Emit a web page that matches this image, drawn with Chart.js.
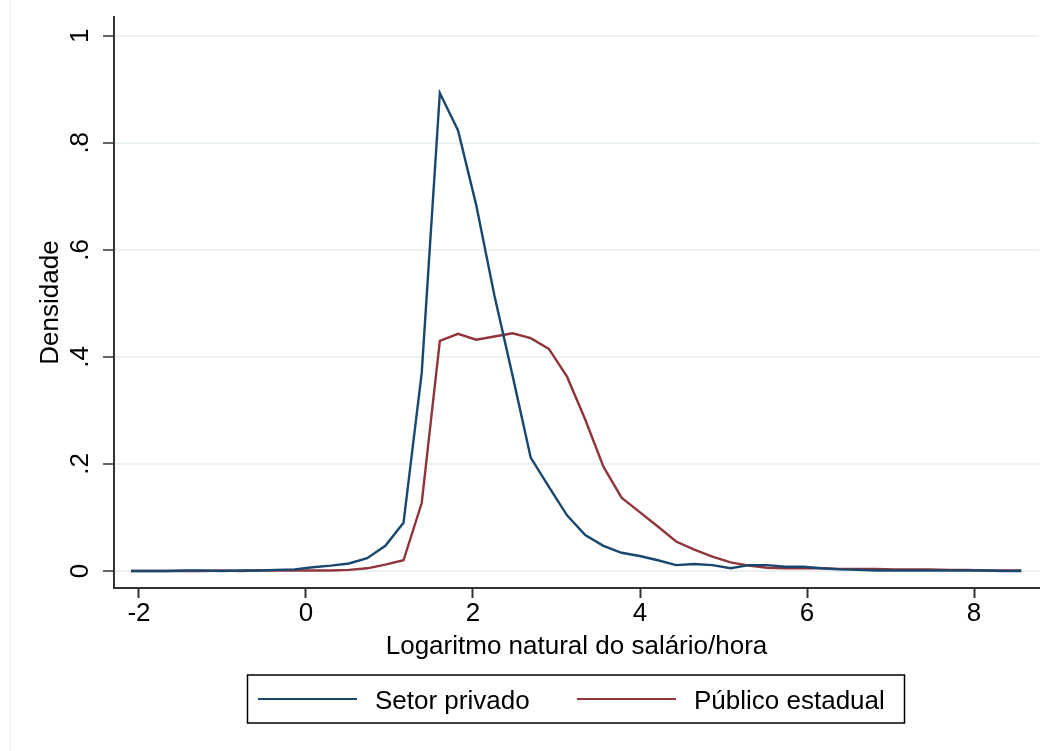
<!DOCTYPE html>
<html lang="pt">
<head>
    <meta charset="UTF-8">
    <title>Densidade - salário/hora</title>
    <script src="https://cdn.jsdelivr.net/npm/chart.js"></script>
    <style>
        body { margin: 0; background: #fff; }
        canvas { display: block; }
    </style>
</head>
<body>
    <canvas id="densChart" width="1055" height="751"></canvas>

    <script>
    // pontos de avaliação do kdensity (log do salário/hora)
    const xGrid = [
        -2.096, -1.878, -1.661, -1.443, -1.226, -1.008, -0.790, -0.573, -0.355, -0.138,
         0.080,  0.298,  0.515,  0.733,  0.950,  1.168,  1.386,  1.603,  1.821,  2.038,
         2.256,  2.474,  2.691,  2.909,  3.126,  3.344,  3.562,  3.779,  3.997,  4.214,
         4.432,  4.650,  4.867,  5.085,  5.302,  5.520,  5.738,  5.955,  6.173,  6.390,
         6.608,  6.826,  7.043,  7.261,  7.478,  7.696,  7.914,  8.131,  8.349,  8.566
    ];

    const setorPrivado = [
        0.000, 0.000, 0.000, 0.001, 0.001, 0.000, 0.001, 0.001, 0.002, 0.003,
        0.007, 0.010, 0.014, 0.024, 0.047, 0.090, 0.370, 0.893, 0.823, 0.684,
        0.515, 0.365, 0.212, 0.157, 0.104, 0.067, 0.047, 0.034, 0.028, 0.020,
        0.011, 0.013, 0.011, 0.005, 0.011, 0.011, 0.008, 0.008, 0.005, 0.003,
        0.002, 0.001, 0.001, 0.001, 0.001, 0.001, 0.001, 0.001, 0.000, 0.000
    ];

    const publicoEstadual = [
        0.000, 0.000, 0.000, 0.000, 0.000, 0.001, 0.000, 0.001, 0.001, 0.001,
        0.001, 0.001, 0.002, 0.005, 0.012, 0.020, 0.127, 0.430, 0.443, 0.432,
        0.438, 0.444, 0.435, 0.415, 0.363, 0.283, 0.195, 0.137, 0.110, 0.083,
        0.055, 0.040, 0.027, 0.016, 0.010, 0.006, 0.005, 0.005, 0.005, 0.004,
        0.004, 0.004, 0.003, 0.003, 0.003, 0.002, 0.002, 0.001, 0.001, 0.001
    ];

    const xTicks = [-2, 0, 2, 4, 6, 8];
    const yTicks = [0, 0.2, 0.4, 0.6, 0.8, 1];
    const yTickLabels = ['0', '.2', '.4', '.6', '.8', '1'];
    const seriesNames = ['Setor privado', 'Público estadual'];
    const seriesColors = ['#1a476f', '#90353b'];

    const FONT = "Arial, 'Liberation Sans', sans-serif";

    // textos no estilo Stata: rótulos do eixo y girados, título x e legenda com moldura
    const stataText = {
        id: 'stataText',
        beforeDraw(chart) {
            const ctx = chart.ctx;
            ctx.save();
            ctx.fillStyle = '#fff';
            ctx.fillRect(0, 0, chart.width, chart.height);
            ctx.strokeStyle = '#eceff0';
            ctx.lineWidth = 1;
            ctx.beginPath();
            ctx.moveTo(10.5, 0);
            ctx.lineTo(10.5, chart.height);
            ctx.stroke();
            ctx.restore();
        },
        afterDraw(chart) {
            const ctx = chart.ctx;
            const y = chart.scales.y;
            const area = chart.chartArea;
            ctx.save();
            ctx.fillStyle = '#000';
            ctx.font = '26px ' + FONT;
            ctx.textAlign = 'center';
            ctx.textBaseline = 'alphabetic';

            // rótulos do eixo y
            yTicks.forEach((v, i) => {
                ctx.save();
                ctx.translate(88, y.getPixelForValue(v));
                ctx.rotate(-Math.PI / 2);
                ctx.fillText(yTickLabels[i], 0, 0);
                ctx.restore();
            });

            // título do eixo y
            ctx.save();
            ctx.translate(58, (area.top + area.bottom) / 2);
            ctx.rotate(-Math.PI / 2);
            ctx.fillText('Densidade', 0, 0);
            ctx.restore();

            // título do eixo x
            const cx = (area.left + area.right) / 2;
            ctx.fillText('Logaritmo natural do salário/hora', cx, 654);

            // legenda
            ctx.strokeStyle = '#000';
            ctx.lineWidth = 1.5;
            ctx.strokeRect(247.5, 675, 657, 48);
            const lineStarts = [258, 577];
            ctx.textAlign = 'left';
            seriesNames.forEach((name, i) => {
                ctx.strokeStyle = seriesColors[i];
                ctx.lineWidth = 2;
                ctx.beginPath();
                ctx.moveTo(lineStarts[i], 699);
                ctx.lineTo(lineStarts[i] + 99, 699);
                ctx.stroke();
                ctx.fillText(name, lineStarts[i] + 117, 709);
            });
            ctx.restore();
        }
    };

    new Chart(document.getElementById('densChart'), {
        type: 'line',
        data: {
            datasets: [
                {
                    label: seriesNames[0],
                    data: xGrid.map((x, i) => ({ x: x, y: setorPrivado[i] })),
                    borderColor: seriesColors[0],
                    borderWidth: 2.4,
                    pointRadius: 0,
                    tension: 0
                },
                {
                    label: seriesNames[1],
                    data: xGrid.map((x, i) => ({ x: x, y: publicoEstadual[i] })),
                    borderColor: seriesColors[1],
                    borderWidth: 2.4,
                    pointRadius: 0,
                    tension: 0
                }
            ]
        },
        options: {
            responsive: false,
            animation: false,
            layout: { padding: { top: 17, right: 16, left: 0, bottom: 0 } },
            plugins: {
                legend: { display: false },
                tooltip: { enabled: false }
            },
            scales: {
                x: {
                    type: 'linear',
                    min: -2.299,
                    max: 8.778,
                    afterBuildTicks: (s) => { s.ticks = xTicks.map(v => ({ value: v })); },
                    afterFit: (s) => { s.height = 163; },
                    grid: {
                        drawOnChartArea: false,
                        tickLength: 10,
                        tickColor: '#333',
                        tickWidth: 2
                    },
                    border: { display: true, color: '#333', width: 2 },
                    ticks: {
                        color: '#000',
                        padding: 0,
                        maxRotation: 0,
                        font: { family: FONT, size: 26 },
                        callback: (v) => String(v)
                    }
                },
                y: {
                    type: 'linear',
                    min: -0.0318,
                    max: 1.035,
                    afterBuildTicks: (s) => { s.ticks = yTicks.map(v => ({ value: v })); },
                    afterFit: (s) => { s.width = 114; },
                    grid: {
                        color: '#eaf2f3',
                        lineWidth: 2,
                        tickLength: 11,
                        tickColor: '#333',
                        tickWidth: 1.5
                    },
                    border: { display: true, color: '#333', width: 2 },
                    ticks: { display: false }
                }
            }
        },
        plugins: [stataText]
    });
    </script>
</body>
</html>
